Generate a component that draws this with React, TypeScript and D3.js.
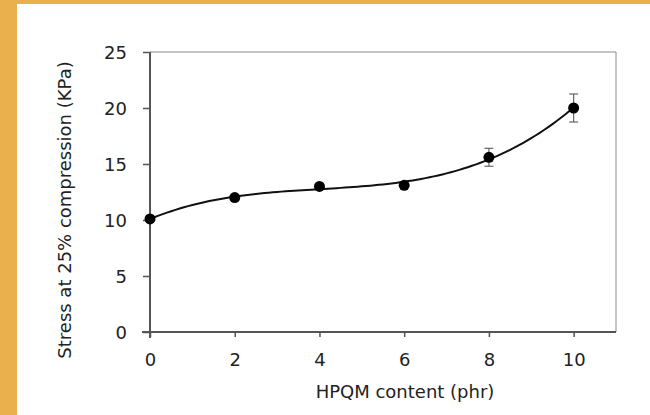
import * as d3 from "d3";
import { useEffect, useRef } from "react";

// HPQM content (phr)
const contents = [0, 2, 4, 6, 8, 10];
// stress at 25% compression (KPa)
const stress = [10.1, 12.0, 13.0, 13.1, 15.6, 20.0];
const stressErr = [0, 0, 0, 0, 0.8, 1.25];
const xTicks = [0, 2, 4, 6, 8, 10];
const yTicks = [0, 5, 10, 15, 20, 25];

// least squares polynomial trendline (like the spreadsheet one)
function polyFit(xs: number[], ys: number[], deg: number) {
  const n = deg + 1;
  const A: number[][] = [];
  for (let r = 0; r < n; r++) {
    const row: number[] = [];
    for (let c = 0; c < n; c++) row.push(d3.sum(xs, (x) => Math.pow(x, r + c)));
    row.push(d3.sum(xs, (x, i) => Math.pow(x, r) * ys[i]));
    A.push(row);
  }
  for (let i = 0; i < n; i++) {
    let p = i;
    for (let k = i + 1; k < n; k++) if (Math.abs(A[k][i]) > Math.abs(A[p][i])) p = k;
    [A[i], A[p]] = [A[p], A[i]];
    for (let k = i + 1; k < n; k++) {
      const f = A[k][i] / A[i][i];
      for (let c = i; c <= n; c++) A[k][c] -= f * A[i][c];
    }
  }
  const coef = new Array(n).fill(0);
  for (let i = n - 1; i >= 0; i--) {
    let s = A[i][n];
    for (let c = i + 1; c < n; c++) s -= A[i][c] * coef[c];
    coef[i] = s / A[i][i];
  }
  return (x: number) => coef.reduce((acc, a, i) => acc + a * Math.pow(x, i), 0);
}

export default function App() {
  const ref = useRef<SVGSVGElement>(null);

  useEffect(() => {
    const svg = d3.select(ref.current);
    svg.selectAll("*").remove();

    const left = 150, right = 616, top = 52, bottom = 332;
    const x = d3.scaleLinear().domain([0, 11]).range([left, right]);
    const y = d3.scaleLinear().domain([0, 25]).range([bottom, top]);
    const font = "'DejaVu Sans', sans-serif";

    svg.append("rect").attr("width", 650).attr("height", 415).attr("fill", "#fff");
    // orange frame
    svg.append("rect").attr("x", 0).attr("y", 0).attr("width", 17).attr("height", 415).attr("fill", "#ebb04e");
    svg.append("rect").attr("x", 0).attr("y", 0).attr("width", 650).attr("height", 4).attr("fill", "#ebb04e");

    // top and right frame of the plot
    svg.append("path")
      .attr("d", `M${left},${top}H${right}V${bottom}`)
      .attr("fill", "none")
      .attr("stroke", "#8a8a8a")
      .attr("stroke-width", 1);

    const yAxis = svg.append("g")
      .attr("transform", `translate(${left},0)`)
      .call(d3.axisLeft(y).tickValues(yTicks).tickSize(7).tickPadding(16));
    const xAxis = svg.append("g")
      .attr("transform", `translate(0,${bottom})`)
      .call(d3.axisBottom(x).tickValues(xTicks).tickSize(5).tickPadding(22));

    [yAxis, xAxis].forEach((g) => {
      g.select(".domain").remove();
      g.selectAll("line").attr("stroke", "#555").attr("stroke-width", 1.5);
      g.selectAll("text")
        .attr("fill", "#222")
        .style("font-family", font)
        .style("font-size", "18px");
    });
    yAxis.selectAll("text").attr("dy", "0.35em");
    xAxis.selectAll("text").attr("dy", "0.4em");

    // the two main axis lines, drawn to cross
    svg.append("line").attr("x1", left).attr("x2", left).attr("y1", top).attr("y2", bottom + 6)
      .attr("stroke", "#555").attr("stroke-width", 2);
    svg.append("line").attr("x1", left - 8).attr("x2", right).attr("y1", bottom).attr("y2", bottom)
      .attr("stroke", "#555").attr("stroke-width", 2);

    // trendline
    const fit = polyFit(contents, stress, 3);
    const xs = d3.range(0, 10.001, 0.1);
    svg.append("path")
      .datum(xs)
      .attr("d", d3.line<number>().x((d) => x(d)).y((d) => y(fit(d))))
      .attr("fill", "none")
      .attr("stroke", "#111")
      .attr("stroke-width", 2);

    // error bars
    const eb = svg.append("g").attr("stroke", "#666").attr("stroke-width", 1.2);
    contents.forEach((c, i) => {
      const e = stressErr[i];
      if (!e) return;
      const cx = x(c);
      eb.append("line").attr("x1", cx).attr("x2", cx).attr("y1", y(stress[i] - e)).attr("y2", y(stress[i] + e));
      eb.append("line").attr("x1", cx - 4.5).attr("x2", cx + 4.5).attr("y1", y(stress[i] - e)).attr("y2", y(stress[i] - e));
      eb.append("line").attr("x1", cx - 4.5).attr("x2", cx + 4.5).attr("y1", y(stress[i] + e)).attr("y2", y(stress[i] + e));
    });

    svg.append("g")
      .selectAll("circle")
      .data(contents)
      .join("circle")
      .attr("cx", (d) => x(d))
      .attr("cy", (d, i) => y(stress[i]))
      .attr("r", 5.5)
      .attr("fill", "#000");

    svg.append("text")
      .attr("x", 405)
      .attr("y", 398)
      .attr("text-anchor", "middle")
      .attr("fill", "#222")
      .style("font-family", font)
      .style("font-size", "18px")
      .text("HPQM content (phr)");

    svg.append("text")
      .attr("transform", "translate(71,210) rotate(-90)")
      .attr("text-anchor", "middle")
      .attr("fill", "#222")
      .style("font-family", font)
      .style("font-size", "18px")
      .text("Stress at 25% compression (KPa)");
  }, []);

  return (
    <svg
      ref={ref}
      width={650}
      height={415}
      style={{ position: "absolute", left: 0, top: 0 }}
    />
  );
}
